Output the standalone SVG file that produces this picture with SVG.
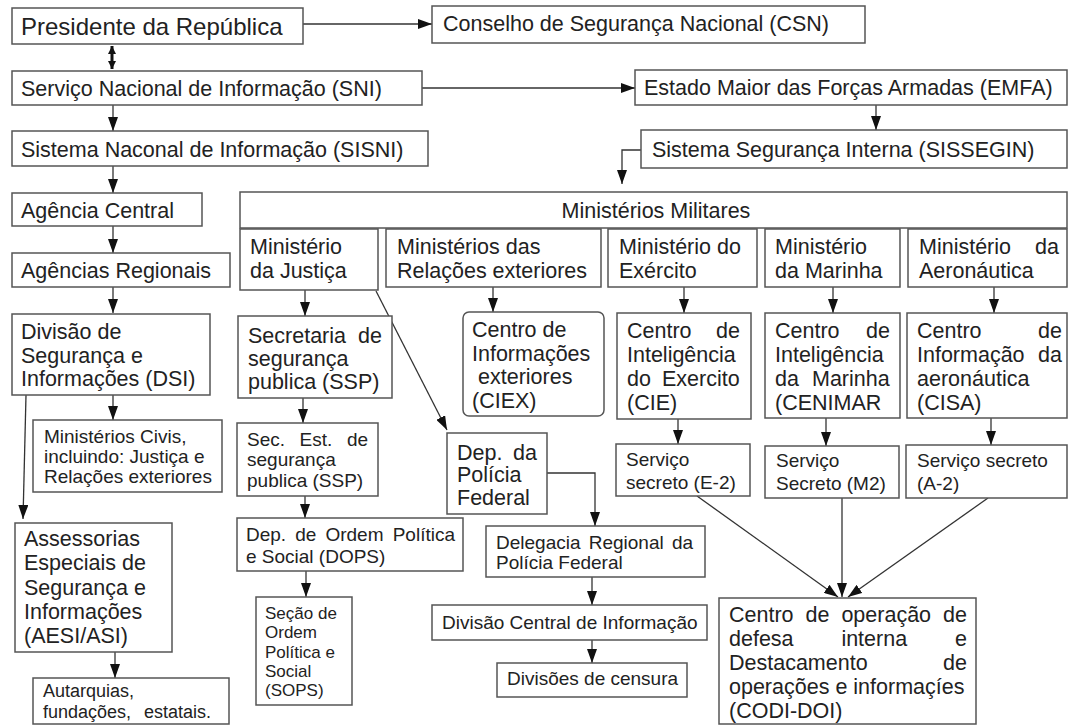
<svg xmlns="http://www.w3.org/2000/svg" width="1070" height="727" viewBox="0 0 1070 727">
<style>
.b{fill:#fff;stroke:#555;stroke-width:1.5}
text{font-family:"Liberation Sans",Arial,sans-serif;fill:#222}
.L{font-size:21.5px}
.M{font-size:19px}
.S{font-size:17px}
.c{fill:none;stroke:#333;stroke-width:1.3}
</style>
<defs>
<marker id="ah" markerUnits="userSpaceOnUse" markerWidth="14" markerHeight="10" refX="14" refY="5" orient="auto" viewBox="0 0 14 10"><path d="M0,0 L14,5 L0,10 z" fill="#111"/></marker>
<marker id="ad" markerUnits="userSpaceOnUse" markerWidth="8" markerHeight="8" refX="8" refY="4" orient="auto-start-reverse" viewBox="0 0 8 8"><path d="M0,0 L8,4 L0,8 z" fill="#111"/></marker>
</defs>
<rect width="1070" height="727" fill="#fff"/>

<g id="connectors">
<path class="c" d="M303,24 H432" marker-end="url(#ah)"/>
<path d="M112,46 V69" stroke="#111" stroke-width="3" fill="none" marker-start="url(#ad)" marker-end="url(#ad)"/>
<path class="c" d="M422,88 H635" marker-end="url(#ah)"/>
<path class="c" d="M113,105 V131" marker-end="url(#ah)"/>
<path class="c" d="M876,105 V130" marker-end="url(#ah)"/>
<path class="c" d="M641,150 H622 V184" marker-end="url(#ah)"/>
<path class="c" d="M113,166 V193" marker-end="url(#ah)"/>
<path class="c" d="M113,226 V253" marker-end="url(#ah)"/>
<path class="c" d="M113,287 V313" marker-end="url(#ah)"/>
<path class="c" d="M113,395 V420" marker-end="url(#ah)"/>
<path class="c" d="M26,395 L23,519" marker-end="url(#ah)"/>
<path class="c" d="M115,652 V678" marker-end="url(#ah)"/>
<path class="c" d="M305,289 V316" marker-end="url(#ah)"/>
<path class="c" d="M376,291 L447,430" marker-end="url(#ah)"/>
<path class="c" d="M493,287 V312" marker-end="url(#ah)"/>
<path class="c" d="M684,287 V313" marker-end="url(#ah)"/>
<path class="c" d="M833,287 V313" marker-end="url(#ah)"/>
<path class="c" d="M994,287 V313" marker-end="url(#ah)"/>
<path class="c" d="M303,398 V423" marker-end="url(#ah)"/>
<path class="c" d="M305,496 V518" marker-end="url(#ah)"/>
<path class="c" d="M306,571 V597" marker-end="url(#ah)"/>
<path class="c" d="M547,473 H595 V526" marker-end="url(#ah)"/>
<path class="c" d="M592,577 V605" marker-end="url(#ah)"/>
<path class="c" d="M592,640 V663" marker-end="url(#ah)"/>
<path class="c" d="M678,419 V444" marker-end="url(#ah)"/>
<path class="c" d="M826,418 V446" marker-end="url(#ah)"/>
<path class="c" d="M991,418 V445" marker-end="url(#ah)"/>
<path class="c" d="M697,496 L838,597" marker-end="url(#ah)"/>
<path class="c" d="M842,498 V597" marker-end="url(#ah)"/>
<path class="c" d="M988,498 L848,597" marker-end="url(#ah)"/>
</g>

<g id="presidente"><rect class="b" x="12" y="8" width="291" height="36"/><text x="21" y="35" font-size="24">Presidente da República</text></g>
<g id="csn"><rect class="b" x="432" y="6" width="433" height="37"/><text class="L" x="443" y="31">Conselho de Segurança Nacional (CSN)</text></g>
<g id="sni"><rect class="b" x="12" y="71" width="410" height="34"/><text class="L" x="21" y="96">Serviço Nacional de Informação (SNI)</text></g>
<g id="emfa"><rect class="b" x="635" y="70" width="432" height="35"/><text class="L" x="644" y="95">Estado Maior das Forças Armadas (EMFA)</text></g>
<g id="sisni"><rect class="b" x="12" y="131" width="416" height="35"/><text class="L" x="21" y="157">Sistema Naconal de Informação (SISNI)</text></g>
<g id="sissegin"><rect class="b" x="641" y="130" width="426" height="38"/><text class="L" x="652" y="157">Sistema Segurança Interna (SISSEGIN)</text></g>
<g id="agcentral"><rect class="b" x="12" y="193" width="190" height="33"/><text class="L" x="21" y="218">Agência Central</text></g>
<g id="militares"><rect class="b" x="240" y="192" width="827" height="36"/><text class="L" x="656" y="218" text-anchor="middle">Ministérios Militares</text></g>
<g id="agregionais"><rect class="b" x="12" y="253" width="218" height="34"/><text class="L" x="21" y="278">Agências Regionais</text></g>
<g id="justica"><rect class="b" x="240" y="229" width="138" height="61"/><text class="L" x="250" y="254">Ministério</text><text class="L" x="250" y="278">da Justiça</text></g>
<g id="relacoes"><rect class="b" x="386" y="229" width="215" height="58"/><text class="L" x="397" y="254">Ministérios das</text><text class="L" x="397" y="278">Relações exteriores</text></g>
<g id="exercito"><rect class="b" x="608" y="229" width="149" height="58"/><text class="L" x="619" y="254">Ministério do</text><text class="L" x="619" y="278">Exército</text></g>
<g id="marinha"><rect class="b" x="765" y="229" width="135" height="58"/><text class="L" x="775" y="254">Ministério</text><text class="L" x="775" y="278">da Marinha</text></g>
<g id="aeronautica"><rect class="b" x="908" y="229" width="159" height="58"/><text class="L" y="254"><tspan x="919">Ministério </tspan><tspan x="1035">da</tspan></text><text class="L" x="919" y="278">Aeronáutica</text></g>
<g id="dsi"><rect class="b" x="12" y="314" width="198" height="81"/><text class="L" x="21" y="339">Divisão de</text><text class="L" x="21" y="363">Segurança e</text><text class="L" x="21" y="386">Informações (DSI)</text></g>
<g id="ssp"><rect class="b" x="238" y="316" width="154" height="82"/><text class="L" y="343"><tspan x="248">Secretaria </tspan><tspan x="358">de</tspan></text><text class="L" x="248" y="366">segurança</text><text class="L" x="248" y="389">publica (SSP)</text></g>
<g id="ciex"><rect class="b" x="463" y="312" width="141" height="104" rx="6"/><text class="L" x="472" y="337">Centro de</text><text class="L" x="472" y="361">Informações</text><text class="L" x="478" y="384">exteriores</text><text class="L" x="472" y="408">(CIEX)</text></g>
<g id="cie"><rect class="b" x="617" y="313" width="134" height="106"/><text class="L" y="338"><tspan x="627">Centro </tspan><tspan x="716">de</tspan></text><text class="L" x="627" y="362">Inteligência</text><text class="L" y="386"><tspan x="627">do </tspan><tspan x="662">Exercito</tspan></text><text class="L" x="627" y="410">(CIE)</text></g>
<g id="cenimar"><rect class="b" x="765" y="313" width="135" height="105"/><text class="L" y="338"><tspan x="775">Centro </tspan><tspan x="866">de</tspan></text><text class="L" x="775" y="362">Inteligência</text><text class="L" y="386"><tspan x="775">da </tspan><tspan x="812">Marinha</tspan></text><text class="L" x="775" y="410">(CENIMAR</text></g>
<g id="cisa"><rect class="b" x="907" y="313" width="160" height="105"/><text class="L" y="338"><tspan x="917">Centro </tspan><tspan x="1038">de</tspan></text><text class="L" y="362"><tspan x="917">Informação </tspan><tspan x="1038">da</tspan></text><text class="L" x="917" y="386">aeronáutica</text><text class="L" x="917" y="410">(CISA)</text></g>
<g id="civis"><rect class="b" x="33" y="420" width="189" height="72"/><text class="M" x="44" y="443">Ministérios Civis,</text><text class="M" x="44" y="463">incluindo: Justiça e</text><text class="M" x="44" y="483">Relações exteriores</text></g>
<g id="secest"><rect class="b" x="237" y="423" width="141" height="73"/><text class="M" y="446"><tspan x="247">Sec. </tspan><tspan x="299.6">Est. </tspan><tspan x="346.9">de</tspan></text><text class="M" x="247" y="466">segurança</text><text class="M" x="247" y="487">publica (SSP)</text></g>
<g id="deppf"><rect class="b" x="447" y="433" width="100" height="81"/><text class="L" y="460"><tspan x="457">Dep. </tspan><tspan x="513">da</tspan></text><text class="L" x="457" y="482">Polícia</text><text class="L" x="457" y="505">Federal</text></g>
<g id="e2"><rect class="b" x="616" y="444" width="134" height="52"/><text class="M" x="626" y="466">Serviço</text><text class="M" x="626" y="489">secreto (E-2)</text></g>
<g id="m2"><rect class="b" x="765" y="446" width="134" height="52"/><text class="M" x="776" y="467">Serviço</text><text class="M" x="776" y="490">Secreto (M2)</text></g>
<g id="a2"><rect class="b" x="906" y="445" width="161" height="53"/><text class="M" x="917" y="467">Serviço secreto</text><text class="M" x="917" y="490">(A-2)</text></g>
<g id="assessorias"><rect class="b" x="15" y="523" width="157" height="129"/><text class="L" x="24" y="546">Assessorias</text><text class="L" x="24" y="570">Especiais de</text><text class="L" x="24" y="595">Segurança e</text><text class="L" x="24" y="619">Informações</text><text class="L" x="24" y="643">(AESI/ASI)</text></g>
<g id="dops"><rect class="b" x="237" y="518" width="226" height="53"/><text class="M" y="541"><tspan x="246">Dep. </tspan><tspan x="295.2">de </tspan><tspan x="325.4">Ordem </tspan><tspan x="392.7">Política</tspan></text><text class="M" x="246" y="563">e Social (DOPS)</text></g>
<g id="delegacia"><rect class="b" x="486" y="526" width="219" height="51"/><text class="M" y="549"><tspan x="496">Delegacia </tspan><tspan x="588.7">Regional </tspan><tspan x="671.9">da</tspan></text><text class="M" x="496" y="569">Polícia Federal</text></g>
<g id="sops"><rect class="b" x="256" y="597" width="96" height="108"/><text class="S" x="265" y="619">Seção de</text><text class="S" x="265" y="638">Ordem</text><text class="S" x="265" y="658">Política e</text><text class="S" x="265" y="677">Social</text><text class="S" x="265" y="696">(SOPS)</text></g>
<g id="divisao"><rect class="b" x="432" y="605" width="275" height="35"/><text class="M" x="442" y="629">Divisão Central de Informação</text></g>
<g id="codi"><rect class="b" x="719" y="598" width="257" height="126"/><text class="L" y="622"><tspan x="729">Centro </tspan><tspan x="805.5">de </tspan><tspan x="841.4">operação </tspan><tspan x="943.1">de</tspan></text><text class="L" y="646"><tspan x="729">defesa </tspan><tspan x="841.4">interna </tspan><tspan x="955">e</tspan></text><text class="L" y="670"><tspan x="729">Destacamento </tspan><tspan x="943.1">de</tspan></text><text class="L" x="729" y="694">operações e informaçíes</text><text class="L" x="729" y="718">(CODI-DOI)</text></g>
<g id="censura"><rect class="b" x="497" y="663" width="190" height="34"/><text class="M" x="507" y="685">Divisões de censura</text></g>
<g id="autarquias"><rect class="b" x="33" y="678" width="196" height="46"/><text x="43" y="697" font-size="18">Autarquias,</text><text x="43" y="718" font-size="18" word-spacing="8">fundações, estatais.</text></g>
</svg>
